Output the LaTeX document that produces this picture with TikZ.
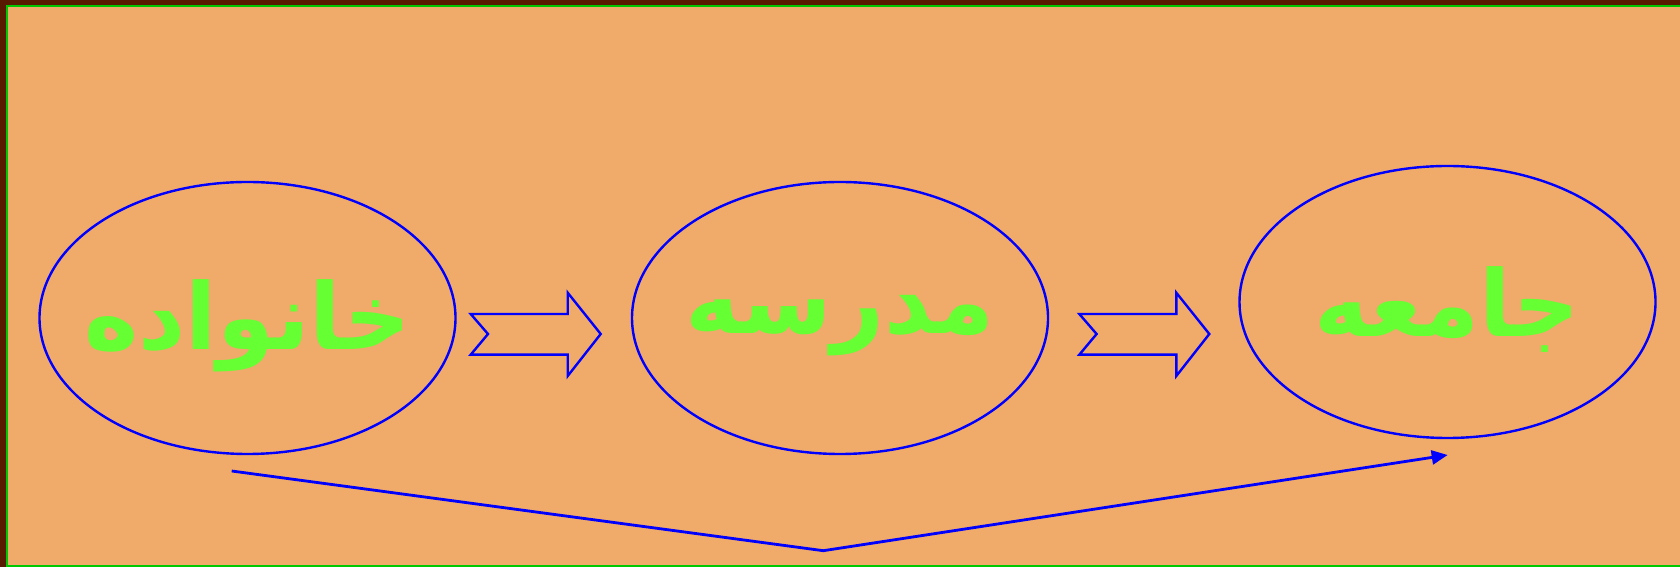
\documentclass[tikz,border=0pt]{standalone}
\usepackage{fontspec}
\usepackage{xcolor}
\usetikzlibrary{arrows.meta,shapes.geometric}
\TeXXeTstate=1
\newfontfamily\arabicfont[Script=Arabic]{DejaVu Sans}
\definecolor{bgorange}{RGB}{240,170,106}
\definecolor{framebrown}{RGB}{88,26,0}
\definecolor{framegreen}{RGB}{0,200,0}
\definecolor{wordgreen}{RGB}{102,255,51}
\tikzset{
  stage/.style={ellipse, draw=blue, line width=1.2pt, inner sep=0pt,
    minimum width=208pt, minimum height=136pt},
  word/.style={text=wordgreen, inner sep=0pt, font=\arabicfont\bfseries\fontsize{46}{54}\selectfont},
  blockarrow/.style={draw=blue, line width=1.2pt}
}

\begin{document}
\begin{tikzpicture}[x=0.5pt, y=0.5pt]
\useasboundingbox (0,0) rectangle (1680,567);
% frame
\fill[framebrown] (0,0) rectangle (1680,567);
\fill[bgorange] (7,0) rectangle (1680,561);
\draw[framegreen, line width=1pt] (1680,561) -- (7,561) -- (7,1) -- (1680,1);
% stages
\node[stage] (family) at (247.5,249) {};
\node[stage] (school) at (840,249) {};
\node[stage] (society) at (1447.5,265) {};
\node[word] (familyw) at ([yshift=-4pt]family.center) {\beginR خانواده\endR};
\node[word] (schoolw) at ([yshift=-4pt]school.center) {\beginR مدرسه\endR};
\node[word] (societyw) at ([yshift=-4pt]society.center) {\beginR جامعه\endR};
% block arrows
\draw[blockarrow] (470.7,253) -- (567.7,253) -- (567.7,274.3) -- (600.7,233) -- (567.7,191) -- (567.7,212.3) -- (470.7,212.3) -- (488,233) -- cycle;
\draw[blockarrow] (1079.3,253) -- (1176.3,253) -- (1176.3,274.3) -- (1209.3,233) -- (1176.3,191) -- (1176.3,212.3) -- (1079.3,212.3) -- (1096.6,233) -- cycle;
% path under the stages
\coordinate (lstart) at (231.7,96);
\coordinate (lbend) at (823.3,16.3);
\coordinate (lend) at (1447.7,112);
\draw[blue, line width=1.4pt, -{Triangle[length=8pt,width=7pt]}] (lstart) -- (lbend) -- (lend);
\end{tikzpicture}
\end{document}
